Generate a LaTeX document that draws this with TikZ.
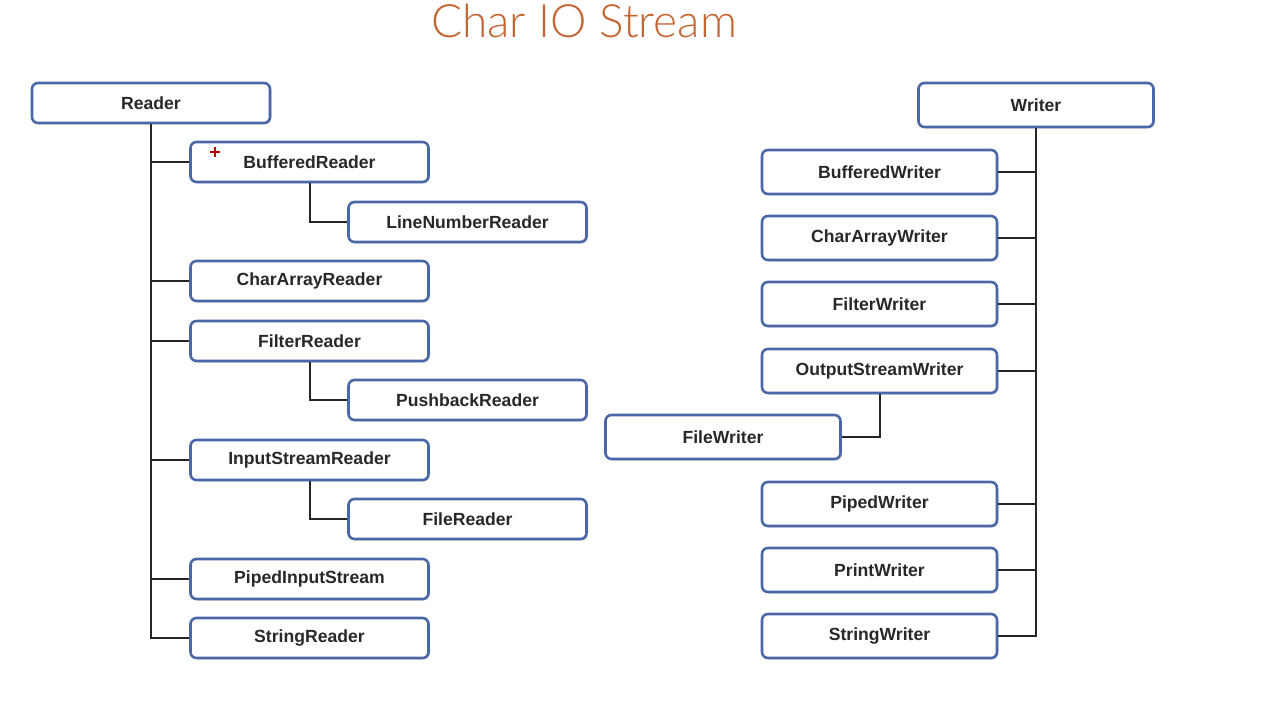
\documentclass[tikz,border=0pt]{standalone}
\usepackage{fontspec}
\setmainfont{Liberation Sans}
\newfontfamily\titlefont{Lato Light}
\usetikzlibrary{shadows}
\definecolor{boxblue}{RGB}{74,104,168}
\definecolor{txtgray}{RGB}{40,40,40}
\definecolor{titleorange}{RGB}{196,102,52}
\tikzset{
  cls/.style={draw=boxblue, line width=2.6pt, rounded corners=6pt, fill=white,
    minimum width=238pt, minimum height=40pt, inner sep=0pt,
    font=\fontsize{17.6}{19}\selectfont\bfseries, text=txtgray,
    drop shadow={opacity=0.3, shadow xshift=1.5pt, shadow yshift=-1.5pt}},
  wcls/.style={cls, minimum width=235pt, minimum height=44pt},
  link/.style={draw=black!85, line width=2pt},
}
\begin{document}
\begin{tikzpicture}[x=1pt,y=-1pt]
\useasboundingbox (0,0) rectangle (1270,706);
\node[font=\titlefont\fontsize{46}{50}\selectfont, text=titleorange, anchor=base] (title) at (584,38) {Char IO Stream};

% Reader side
\node[cls] (reader) at (151,103) {Reader};
\node[cls] (br)  at (309.5,162) {BufferedReader};
\node[cls] (lnr) at (467.5,222) {LineNumberReader};
\node[cls] (car) at (309.5,281) {CharArrayReader};
\node[cls] (fr)  at (309.5,341) {FilterReader};
\node[cls] (pbr) at (467.5,400) {PushbackReader};
\node[cls] (isr) at (309.5,460) {InputStreamReader};
\node[cls] (flr) at (467.5,519) {FileReader};
\node[cls] (pis) at (309.5,579) {PipedInputStream};
\node[cls] (sr)  at (309.5,638) {StringReader};

\draw[link] (reader.south) -- (reader.south |- sr.west) -- (sr.west);
\foreach \c in {br,car,fr,isr,pis}
  \draw[link] (reader.south |- \c.west) -- (\c.west);
\draw[link] (br.south) -- (br.south |- lnr.west) -- (lnr.west);
\draw[link] (fr.south) -- (fr.south |- pbr.west) -- (pbr.west);
\draw[link] (isr.south) -- (isr.south |- flr.west) -- (flr.west);

% Writer side
\node[wcls] (writer) at (1036,105) {Writer};
\node[wcls] (bw)  at (879.5,172) {BufferedWriter};
\node[wcls] (caw) at (879.5,238) {CharArrayWriter};
\node[wcls] (fw)  at (879.5,304) {FilterWriter};
\node[wcls] (osw) at (879.5,371) {OutputStreamWriter};
\node[wcls] (flw) at (723,437) {FileWriter};
\node[wcls] (pw)  at (879.5,504) {PipedWriter};
\node[wcls] (prw) at (879.5,570) {PrintWriter};
\node[wcls] (sw)  at (879.5,636) {StringWriter};

\draw[link] (writer.south) -- (writer.south |- sw.east) -- (sw.east);
\foreach \c in {bw,caw,fw,osw,pw,prw}
  \draw[link] (writer.south |- \c.east) -- (\c.east);
\draw[link] (osw.south) -- (osw.south |- flw.east) -- (flw.east);

% cursor mark
\draw[red!75!black, line width=1.3pt] (210,152) -- (220,152) (215,147) -- (215,157);
\end{tikzpicture}
\end{document}
